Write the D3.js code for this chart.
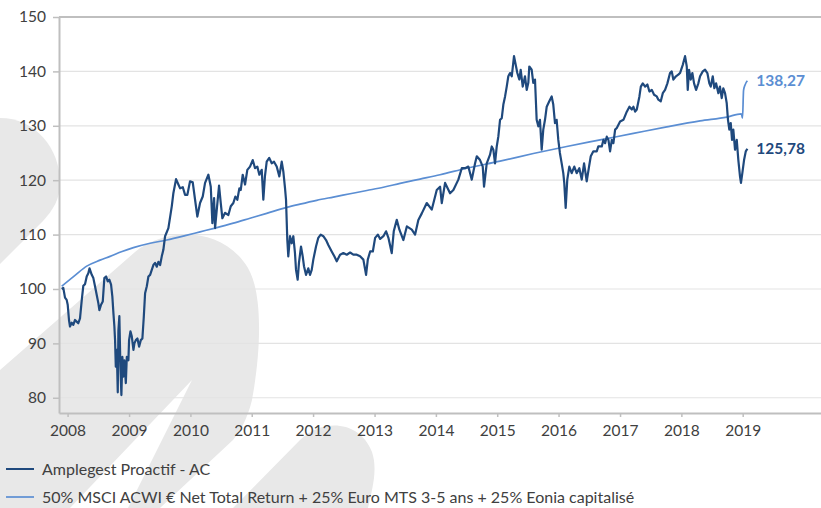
<!DOCTYPE html>
<html>
<head>
<meta charset="utf-8">
<script src="https://cdn.jsdelivr.net/npm/d3@7"></script>
<style>
  html, body { margin: 0; padding: 0; background: #fff; }
  svg { display: block; font-family: Lato, "Open Sans", sans-serif; }
</style>
</head>
<body>
<svg id="chart" width="821" height="508"></svg>
<script>
/* Amplegest Proactif vs benchmark, base 100 */
var fundName  = 'Amplegest Proactif - AC';
var benchName = '50% MSCI ACWI \u20AC Net Total Return + 25% Euro MTS 3-5 ans + 25% Eonia capitalis\u00E9';

var yearTicks  = [2008, 2009, 2010, 2011, 2012, 2013, 2014, 2015, 2016, 2017, 2018, 2019];
var valueTicks = [80, 90, 100, 110, 120, 130, 140, 150];
var lastLabels = ['138,27', '125,78'];   // benchmark, fund

// [decimal year, value]
var fund = [
  [2007.904,100.0],[2007.930,100.2],[2007.958,98.4],[2007.985,98.0],[2008.002,97.1],[2008.023,94.3],
  [2008.039,93.1],[2008.067,93.8],[2008.093,93.4],[2008.121,94.3],[2008.148,94.0],[2008.174,93.7],
  [2008.202,94.6],[2008.230,97.9],[2008.256,100.6],[2008.284,100.9],[2008.311,102.3],[2008.337,102.9],
  [2008.357,103.8],[2008.393,102.6],[2008.419,102.0],[2008.446,100.5],[2008.474,98.9],[2008.500,97.4],
  [2008.517,96.1],[2008.544,97.1],[2008.572,97.7],[2008.598,102.0],[2008.626,102.3],[2008.653,101.4],
  [2008.679,101.7],[2008.707,100.8],[2008.728,98.6],[2008.745,95.6],[2008.761,93.1],[2008.772,90.6],
  [2008.784,85.7],[2008.800,88.8],[2008.816,81.0],[2008.826,92.3],[2008.842,95.0],[2008.859,85.7],
  [2008.875,80.5],[2008.891,87.5],[2008.908,83.9],[2008.924,86.9],[2008.947,82.7],[2008.963,87.5],
  [2008.989,86.9],[2009.000,90.6],[2009.022,92.2],[2009.044,91.3],[2009.071,88.8],[2009.087,90.0],
  [2009.110,90.6],[2009.136,90.9],[2009.163,89.4],[2009.191,90.6],[2009.217,90.9],[2009.240,94.9],
  [2009.261,99.2],[2009.289,100.5],[2009.315,102.3],[2009.343,102.6],[2009.370,103.5],[2009.396,104.4],
  [2009.424,104.8],[2009.452,104.1],[2009.478,105.0],[2009.506,104.4],[2009.533,106.0],[2009.559,107.2],
  [2009.587,109.7],[2009.641,111.2],[2009.696,115.2],[2009.722,117.6],[2009.766,120.2],[2009.804,119.2],
  [2009.832,118.5],[2009.876,118.7],[2009.913,117.3],[2009.950,117.3],[2009.994,119.8],[2010.038,119.6],
  [2010.076,116.4],[2010.113,113.3],[2010.157,115.8],[2010.201,117.0],[2010.239,119.5],[2010.293,121.0],
  [2010.332,118.8],[2010.358,112.1],[2010.386,116.7],[2010.402,111.2],[2010.430,114.6],[2010.467,119.0],
  [2010.495,115.8],[2010.521,113.0],[2010.565,114.0],[2010.619,113.6],[2010.658,115.2],[2010.700,115.8],
  [2010.733,117.0],[2010.765,116.4],[2010.798,118.5],[2010.821,118.2],[2010.853,121.0],[2010.891,119.2],
  [2010.928,121.9],[2010.972,122.5],[2011.016,123.7],[2011.054,122.2],[2011.091,122.5],[2011.124,121.0],
  [2011.163,121.9],[2011.189,116.4],[2011.215,120.7],[2011.244,123.4],[2011.285,124.1],[2011.326,123.1],
  [2011.363,123.4],[2011.407,122.5],[2011.450,120.7],[2011.489,123.4],[2011.515,121.6],[2011.543,118.5],
  [2011.559,116.4],[2011.580,109.0],[2011.596,106.0],[2011.624,109.7],[2011.652,108.4],[2011.678,109.7],
  [2011.705,106.6],[2011.722,103.5],[2011.749,101.7],[2011.770,104.8],[2011.803,107.8],[2011.831,106.0],
  [2011.852,104.2],[2011.885,102.6],[2011.922,103.8],[2011.950,102.6],[2011.978,103.5],[2012.004,105.4],
  [2012.048,107.8],[2012.085,109.4],[2012.124,110.0],[2012.167,109.7],[2012.211,109.0],[2012.248,108.1],
  [2012.303,106.9],[2012.346,106.0],[2012.385,105.1],[2012.439,106.3],[2012.493,106.6],[2012.548,106.3],
  [2012.602,106.7],[2012.655,106.3],[2012.711,106.3],[2012.765,106.0],[2012.818,105.4],[2012.862,102.6],
  [2012.890,105.4],[2012.928,106.9],[2012.972,106.9],[2013.009,109.4],[2013.053,110.0],[2013.091,109.2],
  [2013.144,109.7],[2013.188,110.6],[2013.226,109.4],[2013.280,106.6],[2013.313,110.6],[2013.362,112.7],
  [2013.405,110.9],[2013.470,109.0],[2013.526,111.5],[2013.607,110.9],[2013.661,110.0],[2013.714,112.7],
  [2013.770,113.9],[2013.851,115.8],[2013.933,114.6],[2014.014,118.2],[2014.068,118.8],[2014.096,115.8],
  [2014.150,119.5],[2014.231,117.6],[2014.285,118.2],[2014.366,120.1],[2014.422,122.2],[2014.476,122.2],
  [2014.529,122.5],[2014.585,120.1],[2014.639,123.1],[2014.667,124.4],[2014.720,123.7],[2014.764,122.5],
  [2014.785,118.8],[2014.829,123.1],[2014.883,124.7],[2014.911,126.2],[2014.937,125.6],[2014.964,123.1],
  [2014.992,126.2],[2015.018,128.0],[2015.046,131.1],[2015.074,131.4],[2015.100,133.9],[2015.128,135.4],
  [2015.155,137.2],[2015.181,139.1],[2015.209,139.7],[2015.237,139.1],[2015.274,142.8],[2015.307,140.9],
  [2015.328,139.7],[2015.360,138.5],[2015.383,140.3],[2015.416,137.2],[2015.453,139.1],[2015.481,136.6],
  [2015.507,137.9],[2015.523,140.9],[2015.562,140.3],[2015.588,137.9],[2015.616,138.5],[2015.643,131.1],
  [2015.670,129.9],[2015.697,131.1],[2015.725,125.6],[2015.751,129.3],[2015.779,131.1],[2015.807,133.5],
  [2015.849,134.5],[2015.888,135.4],[2015.914,133.9],[2015.942,130.5],[2015.969,131.1],[2015.996,127.4],
  [2016.022,125.0],[2016.051,123.1],[2016.077,121.3],[2016.093,119.5],[2016.116,114.9],[2016.142,120.1],
  [2016.175,122.5],[2016.214,121.3],[2016.256,122.5],[2016.295,121.3],[2016.338,122.2],[2016.377,120.1],
  [2016.415,123.1],[2016.458,119.8],[2016.496,122.5],[2016.524,124.4],[2016.566,125.3],[2016.621,125.3],
  [2016.647,126.2],[2016.703,126.2],[2016.729,127.4],[2016.757,126.8],[2016.784,128.0],[2016.811,127.4],
  [2016.838,125.3],[2016.866,127.4],[2016.892,126.8],[2016.920,129.3],[2016.947,129.6],[2017.001,130.8],
  [2017.055,131.1],[2017.110,132.6],[2017.153,133.5],[2017.192,133.0],[2017.218,133.5],[2017.246,132.6],
  [2017.273,133.0],[2017.316,135.4],[2017.339,137.2],[2017.371,137.8],[2017.409,137.2],[2017.446,137.6],
  [2017.479,136.3],[2017.518,136.6],[2017.555,135.7],[2017.599,135.4],[2017.625,134.8],[2017.664,134.5],
  [2017.697,136.0],[2017.734,136.6],[2017.772,137.8],[2017.815,139.7],[2017.843,140.0],[2017.869,138.5],
  [2017.912,139.1],[2017.950,139.4],[2017.978,139.7],[2018.023,141.2],[2018.060,142.8],[2018.088,140.9],
  [2018.104,136.6],[2018.125,140.3],[2018.153,138.5],[2018.179,139.7],[2018.207,137.8],[2018.240,136.6],
  [2018.277,137.8],[2018.305,139.1],[2018.349,140.0],[2018.386,140.3],[2018.424,139.7],[2018.456,137.8],
  [2018.479,137.2],[2018.512,139.1],[2018.538,136.9],[2018.566,137.8],[2018.603,136.0],[2018.629,137.2],
  [2018.658,135.1],[2018.684,136.9],[2018.712,136.0],[2018.739,134.2],[2018.760,131.1],[2018.782,129.3],
  [2018.805,130.5],[2018.826,127.4],[2018.847,129.3],[2018.875,125.6],[2018.903,127.4],[2018.929,123.7],
  [2018.956,120.7],[2018.972,119.5],[2018.994,121.3],[2019.022,123.7],[2019.050,125.3],[2019.076,125.78]
];

var bench = [
  [2007.904,100.5],[2008.121,102.5],[2008.311,104.2],[2008.528,105.3],[2008.691,106.0],[2008.886,106.9],
  [2009.071,107.6],[2009.343,108.4],[2009.615,109.0],[2009.913,109.8],[2010.157,110.5],[2010.402,111.2],
  [2010.700,112.1],[2010.972,113.0],[2011.244,113.9],[2011.570,115.0],[2011.787,115.6],[2012.059,116.3],
  [2012.329,116.9],[2012.602,117.5],[2012.874,118.1],[2013.144,118.7],[2013.416,119.4],[2013.742,120.2],
  [2014.068,121.0],[2014.503,122.2],[2015.046,123.5],[2015.589,124.9],[2016.133,126.2],[2016.676,127.4],
  [2017.218,128.6],[2017.762,129.8],[2018.305,130.9],[2018.740,131.6],[2018.978,132.2],[2018.997,131.4],
  [2019.014,136.5],[2019.038,137.5],[2019.076,138.27]
];

var colors = { fund: '#1F497D', bench: '#5B8ED3', grid: '#e3e3e3', axis: '#bfbfbf', text: '#404040', mark: '#e8e8e8' };

function toDate(t) {
  var y = Math.floor(t), s = new Date(y, 0, 1), e = new Date(y + 1, 0, 1);
  return new Date(+s + (t - y) * (e - s));
}

var svg = d3.select('#chart');
var L = 59, R = 821, T = 17, B = 413;

/* background watermark */
var wm = svg.append('g').attr('fill', colors.mark);
wm.append('path').attr('d', 'M0,118 C35,118 60,148 60,183 C60,199 53,210 43,221 L0,264 Z');
wm.append('path').attr('d',
  'M0,370 L55,322 L135,252 C160,230 220,222 248,268 C262,292 262,345 252,400 ' +
  'C247,420 240,432 233,440 L160,508 L128,508 L192,380 L70,508 L0,508 Z');
wm.append('path').attr('d', 'M233,508 L300,440 C322,418 360,420 372,452 C378,470 372,490 368,508 Z');

var x = d3.scaleTime().domain([toDate(2007.86), toDate(2020.276)]).range([L, R]);
var y = d3.scaleLinear().domain([77.2, 150]).range([B, T]);

/* gridlines */
svg.append('g').selectAll('line').data(valueTicks).enter().append('line')
  .attr('x1', L).attr('x2', R)
  .attr('y1', function (d) { return y(d); }).attr('y2', function (d) { return y(d); })
  .attr('stroke', function (d) { return d === 150 ? colors.axis : colors.grid; })
  .attr('stroke-width', function (d) { return d === 150 ? 2 : 1.2; });

/* y axis */
var yAxis = svg.append('g').attr('transform', 'translate(' + L + ',0)')
  .call(d3.axisLeft(y).tickValues(valueTicks).tickSize(6).tickSizeOuter(0).tickPadding(7));
yAxis.select('.domain').attr('stroke', colors.axis).attr('stroke-width', 2);
yAxis.selectAll('.tick line').attr('stroke', colors.axis).attr('stroke-width', 1.5);
yAxis.selectAll('.tick text').attr('fill', colors.text).style('font-size', '15.5px').style('font-family', 'Lato');

/* x axis */
var xAxis = svg.append('g').attr('transform', 'translate(0,' + B + ')')
  .call(d3.axisBottom(x).tickValues(yearTicks.map(function (d) { return new Date(d, 0, 1); }))
    .tickFormat(d3.timeFormat('%Y')).tickSize(4).tickSizeOuter(0).tickPadding(8));
xAxis.select('.domain').attr('stroke', colors.axis).attr('stroke-width', 2);
xAxis.selectAll('.tick line').attr('stroke', colors.axis).attr('stroke-width', 1.5);
xAxis.selectAll('.tick text').attr('fill', colors.text).style('font-size', '15.5px').style('font-family', 'Lato');

/* series */
var line = d3.line()
  .x(function (d) { return x(toDate(d[0])); })
  .y(function (d) { return y(d[1]); });

svg.append('path').datum(bench)
  .attr('fill', 'none').attr('stroke', colors.bench).attr('stroke-width', 1.7)
  .attr('d', line.curve(d3.curveMonotoneX));

svg.append('path').datum(fund)
  .attr('fill', 'none').attr('stroke', colors.fund).attr('stroke-width', 2.2)
  .attr('stroke-linejoin', 'round')
  .attr('d', line.curve(d3.curveLinear));

/* end labels */
var lastB = bench[bench.length - 1], lastF = fund[fund.length - 1];
svg.append('text').attr('x', x(toDate(lastB[0])) + 9).attr('y', y(lastB[1]))
  .attr('dy', '0.35em').attr('fill', colors.bench)
  .style('font-size', '15.5px').style('font-weight', 'bold').text(lastLabels[0]);
svg.append('text').attr('x', x(toDate(lastF[0])) + 9).attr('y', y(lastF[1]))
  .attr('dy', '0.35em').attr('fill', colors.fund)
  .style('font-size', '15.5px').style('font-weight', 'bold').text(lastLabels[1]);

/* legend */
var legend = [
  { name: fundName, color: colors.fund, w: 2, y: 469 },
  { name: benchName, color: colors.bench, w: 1.7, y: 497 }
];
var lg = svg.append('g').selectAll('g').data(legend).enter().append('g');
lg.append('line').attr('x1', 6).attr('x2', 34)
  .attr('y1', function (d) { return d.y; }).attr('y2', function (d) { return d.y; })
  .attr('stroke', function (d) { return d.color; }).attr('stroke-width', function (d) { return d.w; });
lg.append('text').attr('x', 42).attr('y', function (d) { return d.y; }).attr('dy', '0.35em')
  .attr('fill', colors.text).style('font-size', '16px')
  .text(function (d) { return d.name; });
</script>
</body>
</html>
